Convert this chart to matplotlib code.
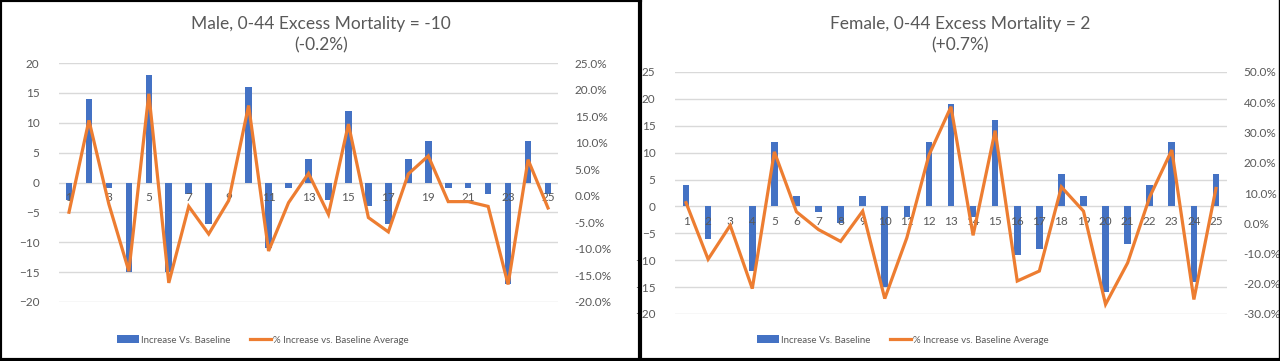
import numpy as np
import matplotlib
matplotlib.use('Agg')
import matplotlib.pyplot as plt
from matplotlib.lines import Line2D
from matplotlib.patches import Patch

plt.rcParams['font.family'] = ['Lato', 'DejaVu Sans']

weeks = list(range(1, 26))

male_increase = [-3, 14, -1, -15, 18, -15, -2, -7, 0, 16, -11, -1, 4,
                 -3, 12, -4, -7, 4, 7, -1, -1, -2, -17, 7, -2]
male_pct = [-3.1, 14.2, -1.6, -14.2, 19.2, -16.4, -2.0, -7.2, -0.9, 17.0,
            -10.4, -1.3, 4.2, -3.5, 13.5, -4.1, -6.8, 4.1, 7.5, -1.1,
            -1.1, -2.0, -16.7, 6.8, -2.3]

female_increase = [4, -6, 0, -12, 12, 2, -1, -3, 2, -15, -2, 12, 19,
                   -2, 16, -9, -8, 6, 2, -16, -7, 4, 12, -14, 6]
female_pct = [6.8, -11.9, -0.7, -21.6, 23.6, 3.8, -2.1, -6.0, 4.0, -24.9,
              -4.8, 22.5, 38.5, -4.0, 30.6, -19.1, -15.8, 12.0, 4.0, -26.8,
              -13.1, 8.7, 24.2, -25.2, 11.5]

BLUE = '#4472C4'
ORANGE = '#ED7D31'
GREY = '#595959'
GRID = '#D9D9D9'

fig = plt.figure(figsize=(12.8, 3.61), dpi=100)


def panel(rect, title, inc, pct, ylim, yticks, plim, pticks, label_step, bar_w, cx, lx):
    ax = fig.add_axes(rect)
    ax.bar(weeks, inc, width=bar_w, color=BLUE, zorder=2)
    ax.set_xlim(0.5, 25.5)
    ax.set_ylim(*ylim)
    ax.set_yticks(yticks)
    ax.set_xticks([])
    ax.grid(axis='y', color=GRID, linewidth=1, zorder=0)
    ax.set_axisbelow(True)
    for s in ax.spines.values():
        s.set_visible(False)
    ax.tick_params(axis='y', length=0, labelsize=8.5, labelcolor=GREY, pad=14)
    for w in weeks[::label_step]:
        ax.annotate(str(w), xy=(w, 0), xytext=(0, -11), textcoords='offset points',
                    ha='center', va='center', fontsize=8.5, color=GREY, zorder=3)

    ax2 = ax.twinx()
    ax2.plot(weeks, pct, color=ORANGE, linewidth=2.3, solid_joinstyle='miter')
    ax2.set_ylim(*plim)
    ax2.set_yticks(pticks)
    ax2.set_yticklabels(['%.1f%%' % t for t in pticks])
    for s in ax2.spines.values():
        s.set_visible(False)
    ax2.tick_params(axis='y', length=0, labelsize=8.5, labelcolor=GREY, pad=12)

    fig.text(cx, 1 - 24 / 361, title[0], ha='center', va='center', fontsize=12.5, color=GREY)
    fig.text(cx, 1 - 45 / 361, title[1], ha='center', va='center', fontsize=12.5, color=GREY)

    handles = [Patch(facecolor=BLUE, edgecolor='none'),
               Line2D([], [], color=ORANGE, linewidth=2.3)]
    fig.legend(handles, ['Increase Vs. Baseline', '% Increase vs. Baseline Average'],
               loc='center', bbox_to_anchor=(lx, 1 - 340 / 361), ncol=2, frameon=False,
               fontsize=7, labelcolor=GREY, handlelength=2.2, handleheight=0.8,
               handletextpad=0.2, columnspacing=2.0)


panel([59 / 1280, 1 - 302 / 361, 499 / 1280, 239 / 361],
      ('Male, 0-44 Excess Mortality = -10', '(-0.2%)'),
      male_increase, male_pct, (-20, 20), range(-20, 21, 5),
      (-20, 25), list(range(-20, 26, 5)), 2, 0.33, 321 / 1280, 263 / 1280)

panel([675 / 1280, 1 - 314 / 361, 552 / 1280, 242 / 361],
      ('Female, 0-44 Excess Mortality = 2', '(+0.7%)'),
      female_increase, female_pct, (-20, 25), range(-20, 26, 5),
      (-30, 50), list(range(-30, 51, 10)), 1, 0.3, 960 / 1280, 903 / 1280)

# panel borders
for x0, x1 in [(0, 640), (640, 1280)]:
    fig.add_artist(Line2D([x0 / 1280, x0 / 1280], [0, 1], color='black', linewidth=3))
fig.add_artist(Line2D([0, 640 / 1280], [1, 1], color='black', linewidth=3))
fig.add_artist(Line2D([0, 1], [1.5 / 361, 1.5 / 361], color='black', linewidth=3))
fig.add_artist(Line2D([1278.5 / 1280, 1278.5 / 1280], [0, 1], color='black', linewidth=1))

fig.savefig('out.png', dpi=100)
